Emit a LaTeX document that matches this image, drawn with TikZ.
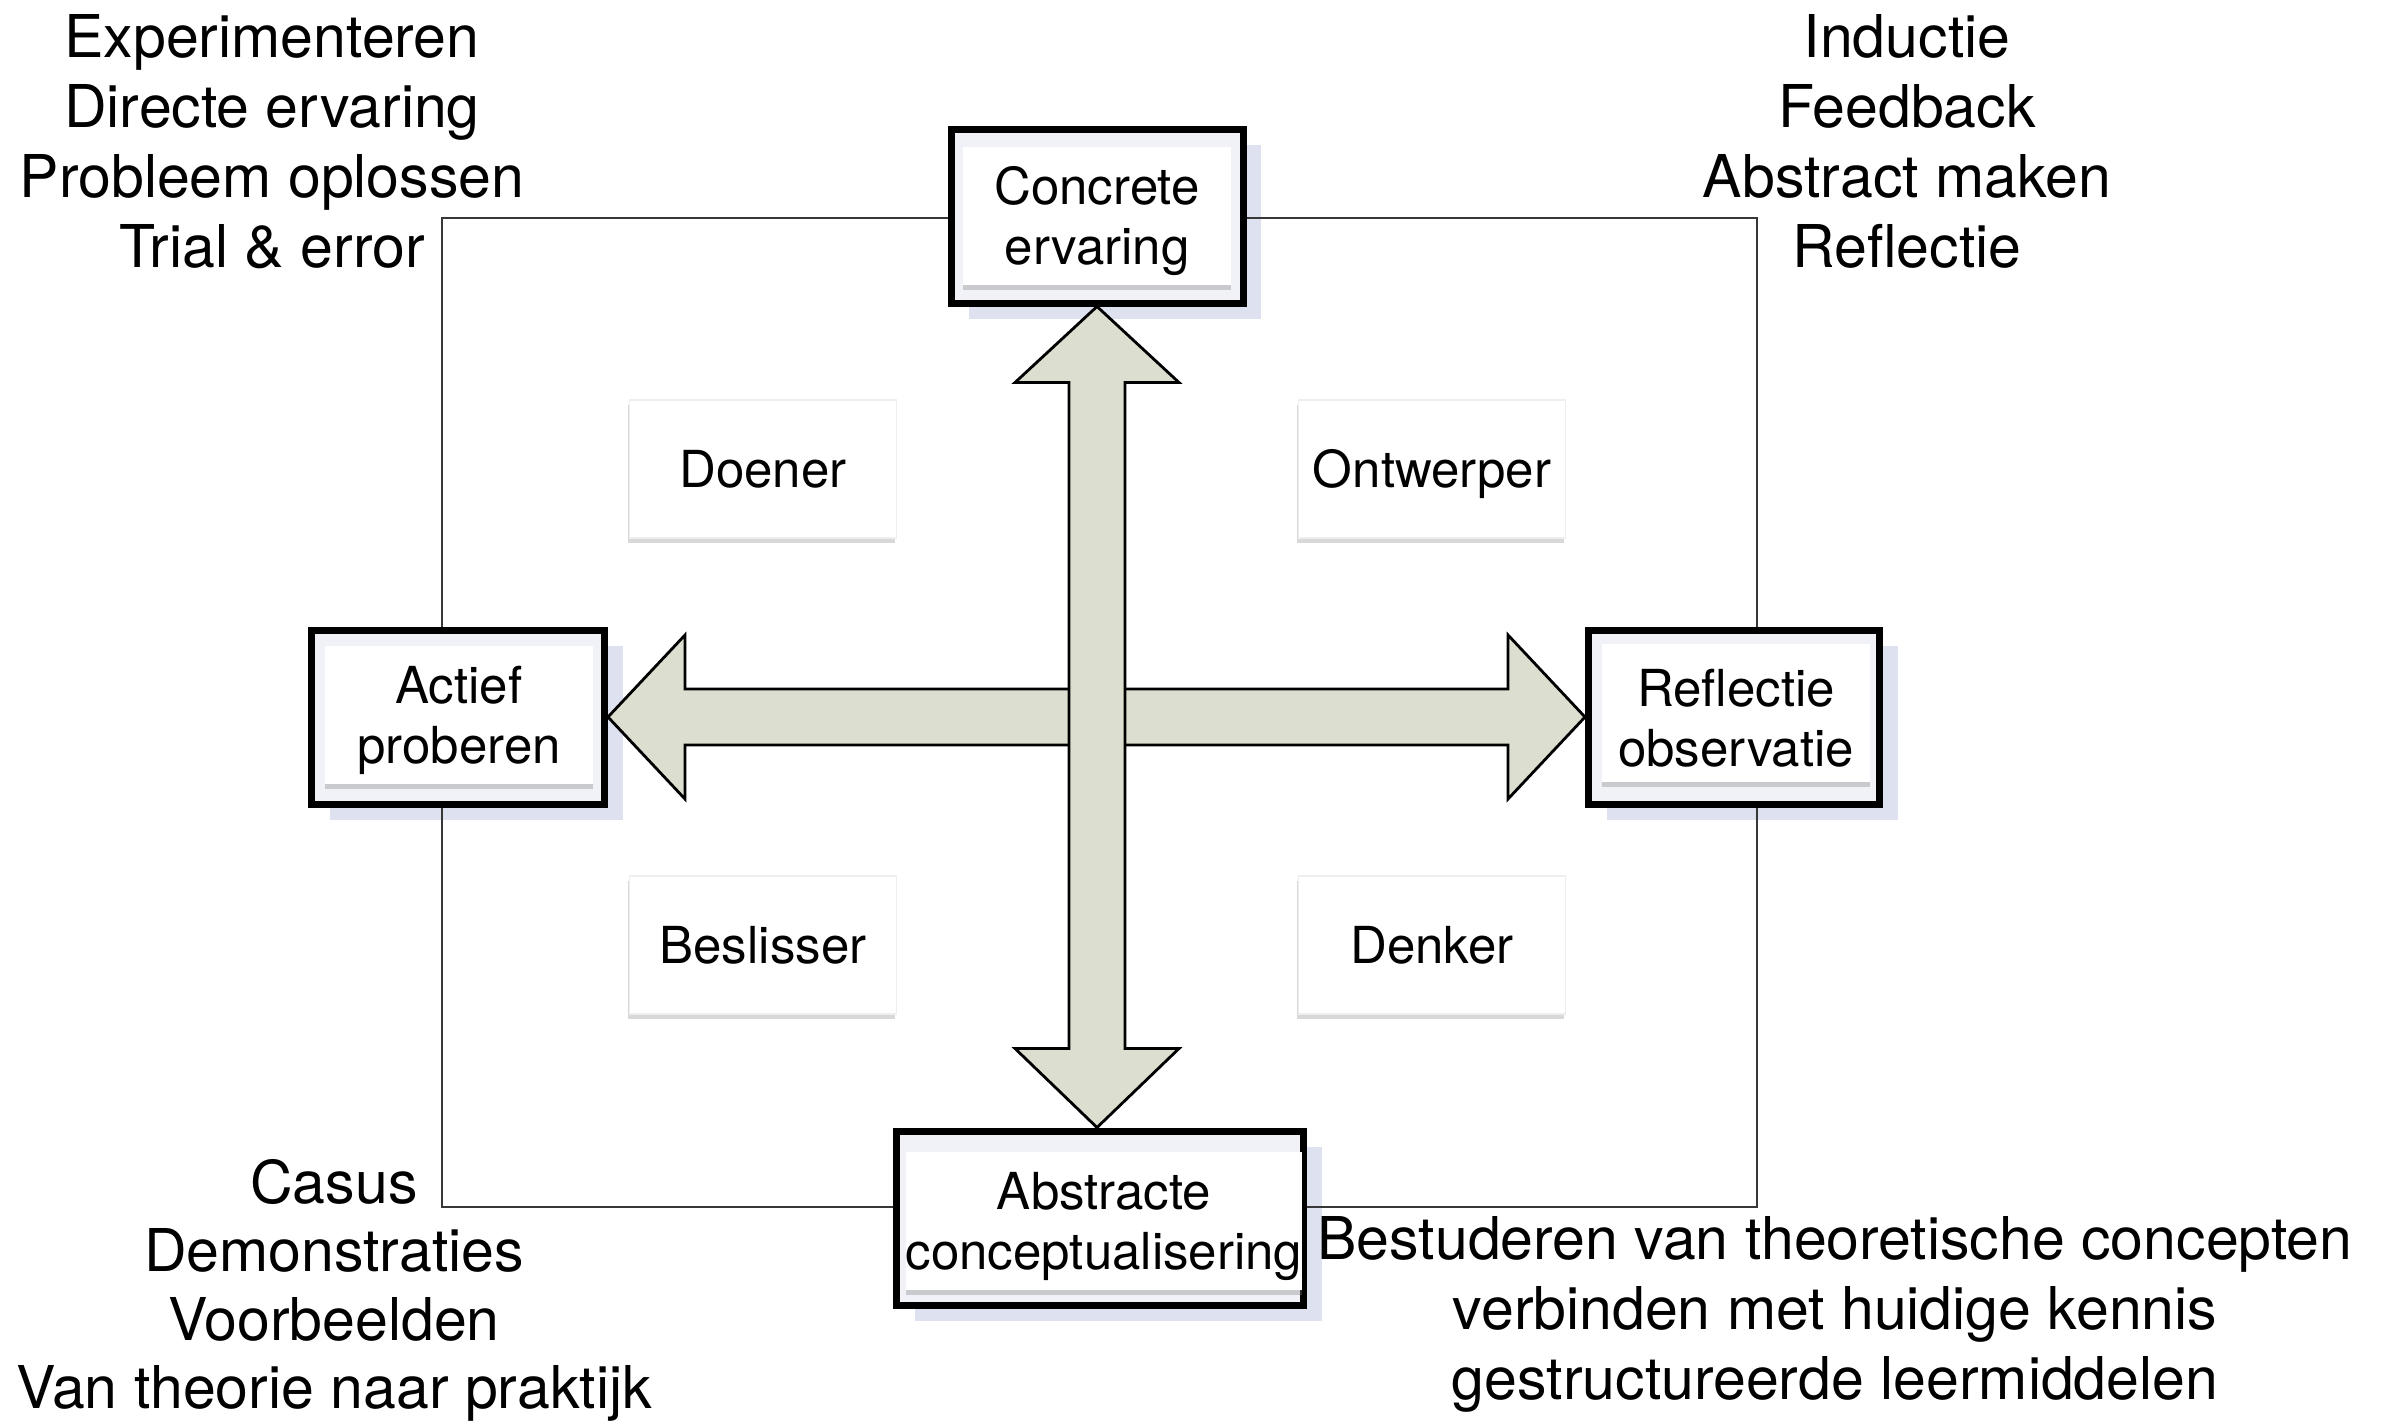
\documentclass[tikz,border=0pt]{standalone}
\usepackage{fontspec}
\setmainfont{TeX Gyre Heros}
\usetikzlibrary{shadows,calc}
\definecolor{boxbg}{RGB}{241,242,248}
\definecolor{boxshadow}{RGB}{222,226,240}
\definecolor{framegray}{RGB}{55,55,55}
\definecolor{arrowgreen}{RGB}{220,223,207}
\definecolor{quadedge}{RGB}{238,238,238}
\newcommand{\lblstrut}{\rule{0pt}{24pt}}
\begin{document}
\begin{tikzpicture}[x=0.5pt,y=-0.5pt,
  outerbox/.style={draw=black, line width=3.5pt, fill=boxbg,
    minimum height=87pt, inner sep=0pt,
    drop shadow={shadow xshift=9pt, shadow yshift=-8pt, fill=boxshadow, opacity=1}},
  innerbox/.style={fill=white, minimum width=134pt, minimum height=69pt, inner sep=0pt,
    align=center, font={\fontsize{25.5}{30}\selectfont},
    drop shadow={shadow xshift=0pt, shadow yshift=-2.5pt, opacity=0.35}},
  quadbox/.style={fill=white, draw=quadedge, line width=0.6pt, minimum width=133.5pt, minimum height=69pt, inner sep=0pt,
    text height=18.5pt, text depth=0pt,
    font={\fontsize{25.5}{30}\selectfont},
    drop shadow={shadow xshift=-1pt, shadow yshift=-2.5pt, opacity=0.3}},
  frameline/.style={draw=framegray, line width=1.4pt},
  arrowfill/.style={draw=black, line width=1.4pt, fill=arrowgreen, line join=miter},
  cornertext/.style={anchor=north, align=center, inner sep=0pt, font={\fontsize{29.5}{35}\selectfont}}
]
\useasboundingbox (0,0) rectangle (2392,1420);
\fill[white] (0,0) rectangle (2392,1420);

% outer boxes
\node[outerbox, minimum width=146pt] (con) at (1097,216) {};
\node[outerbox, minimum width=146.5pt] (act) at (458,717) {};
\node[outerbox, minimum width=145.5pt] (ref) at (1734,717) {};
\node[outerbox, minimum width=203.5pt] (abs) at (1100,1218) {};

% inner labelled boxes
\node[innerbox] (conl) at (1097,216) {\lblstrut Concrete\\ervaring};
\node[innerbox] (actl) at (459,715) {\lblstrut Actief\\proberen};
\node[innerbox] (refl) at (1736,713) {\lblstrut Reflectie\\observatie};
\node[innerbox, minimum width=193pt] (absl) at (1104,1221) {\lblstrut Abstracte\\conceptualisering};

% quadrant boxes
\node[quadbox] (doe) at (763,469) {Doener};
\node[quadbox] (ont) at (1432,469) {Ontwerper};
\node[quadbox] (bes) at (763,945) {Beslisser};
\node[quadbox] (den) at (1432,945) {Denker};

% frame
\coordinate (tl) at (442,218);
\coordinate (tr) at (1757,218);
\coordinate (bl) at (442,1207);
\coordinate (br) at (1757,1207);
\draw[frameline] (con.west |- tl) -- (tl) -- (act.north -| tl);
\draw[frameline] (con.east |- tr) -- (tr) -- (ref.north -| tr);
\draw[frameline] (act.south -| bl) -- (bl) -- (abs.west |- bl);
\draw[frameline] (ref.south -| br) -- (br) -- (abs.east |- br);

% horizontal double arrow
\draw[arrowfill] (act.east) -- ++(77,-82) -- ++(0,54) -- ($(ref.west)+(-77,-28)$)
  -- ++(0,-54) -- (ref.west) -- ++(-77,82) -- ++(0,-54) -- ($(act.east)+(77,28)$)
  -- ++(0,54) -- cycle;

% vertical double arrow
\coordinate (dtip) at (con.south |- abs.north);
\draw[arrowfill] (con.south) -- ++(-82,76) -- ++(54,0) -- ($(dtip)+(-28,-79)$)
  -- ++(-54,0) -- (dtip) -- ++(82,-79) -- ++(-54,0) -- ($(con.south)+(28,76)$)
  -- ++(54,0) -- cycle;

% corner texts
\node[cornertext] (tlt) at (272,14) {Experimenteren\\Directe ervaring\\Probleem oplossen\\Trial \& error};
\node[cornertext] (trt) at (1907,14) {Inductie\\Feedback\\Abstract maken\\Reflectie};
\node[cornertext, font={\fontsize{29.5}{34.2}\selectfont}] (blt) at (334,1159) {Casus\\Demonstraties\\Voorbeelden\\Van theorie naar praktijk};
\node[cornertext] (brt) at (1835,1216) {Bestuderen van theoretische concepten\\verbinden met huidige kennis\\gestructureerde leermiddelen};
\end{tikzpicture}
\end{document}
